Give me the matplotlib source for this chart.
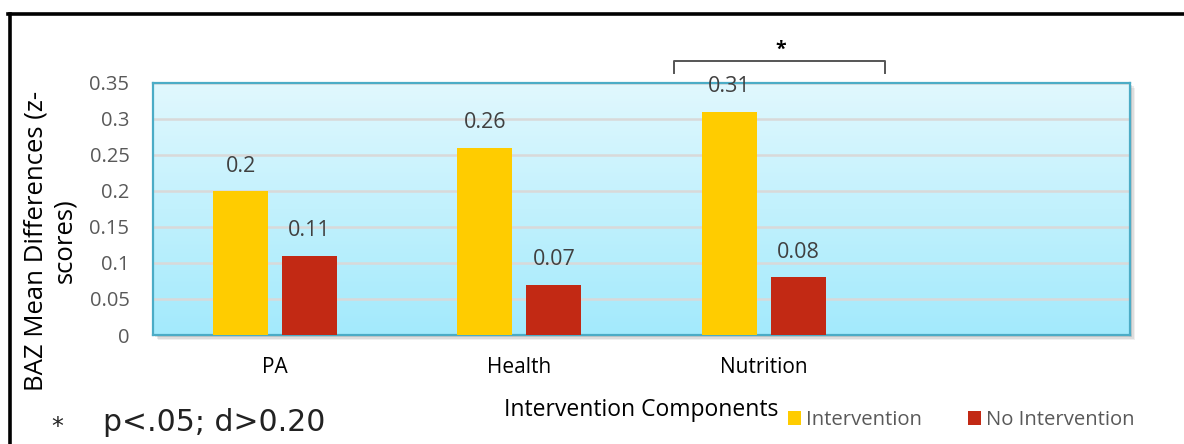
import numpy as np
import matplotlib
matplotlib.use("Agg")
import matplotlib.pyplot as plt
from matplotlib.lines import Line2D
from matplotlib.patches import Rectangle
from matplotlib.colors import LinearSegmentedColormap
import matplotlib.transforms as mtransforms

plt.rcParams['font.family'] = ['Open Sans', 'DejaVu Sans']

# 数据
categories = ["PA", "Health", "Nutrition", ""]
intervention = [0.20, 0.26, 0.31]
no_intervention = [0.11, 0.07, 0.08]
y_ticks = [0, 0.05, 0.1, 0.15, 0.2, 0.25, 0.3, 0.35]
y_tick_labels = ["0", "0.05", "0.1", "0.15", "0.2", "0.25", "0.3", "0.35"]

YELLOW = "#FFCC00"
RED = "#C22914"
TEAL = "#4BACC6"

fig = plt.figure(figsize=(11.84, 4.44), dpi=100)
ax_rect = [153 / 1184, 109 / 444, 977 / 1184, 252 / 444]

# 阴影
for i, a in enumerate([0.10, 0.08, 0.06]):
    off = (2 + i * 1.5)
    fig.patches.append(Rectangle((ax_rect[0] + off / 1184, ax_rect[1] - off / 444),
                                 ax_rect[2], ax_rect[3], transform=fig.transFigure,
                                 facecolor="black", alpha=a, edgecolor="none", zorder=0))

ax = fig.add_axes(ax_rect)
ax.set_zorder(1)

# 渐变背景
cmap = LinearSegmentedColormap.from_list("bg", ["#A3EAFC", "#E1F8FE"])
grad = np.linspace(0, 1, 256).reshape(-1, 1)
ax.imshow(grad, cmap=cmap, aspect="auto", origin="lower",
          extent=[-0.5, 3.5, 0, 0.35], zorder=0)

x = np.arange(len(intervention))
w = 0.225
off = 0.141
b1 = ax.bar(x - off, intervention, w, color=YELLOW, zorder=3, label="Intervention")
b2 = ax.bar(x + off, no_intervention, w, color=RED, zorder=3, label="No Intervention")

for bars, vals in [(b1, intervention), (b2, no_intervention)]:
    for r, v in zip(bars, vals):
        ax.annotate(f"{v:g}", (r.get_x() + r.get_width() / 2, v), xytext=(0, 18),
                    textcoords="offset points", ha="center", va="center",
                    fontsize=15.5, color="#404040", zorder=4, annotation_clip=False)

ax.set_xlim(-0.5, 3.5)
ax.set_ylim(0, 0.35)
ax.set_yticks(y_ticks)
ax.set_yticklabels(y_tick_labels, fontsize=14.5, color="#595959")
ax.set_xticks(np.arange(len(categories)))
ax.set_xticklabels(categories, fontsize=15, color="black")
ax.tick_params(axis="y", length=0, pad=17)
ax.tick_params(axis="x", length=0, pad=16)
ax.yaxis.grid(True, color="#D9D9D9", linewidth=1.8, zorder=1)
ax.set_axisbelow(True)
for s in ax.spines.values():
    s.set_color(TEAL)
    s.set_linewidth(1.6)

ax.set_xlabel("Intervention Components", fontsize=16.5, labelpad=14)
ax.set_ylabel("BAZ Mean Differences (z-\nscores)", fontsize=18.5, linespacing=1.15)
ax.yaxis.set_label_coords(-0.078, 0.373)

# 显著性括号
trans = mtransforms.blended_transform_factory(ax.transData, ax.transAxes)
bx0, bx1 = 1.635, 2.496
ax.add_line(Line2D([bx0, bx0, bx1, bx1], [1.040, 1.087, 1.087, 1.040], transform=trans,
                   color="#555555", linewidth=1.4, clip_on=False))
ax.text((bx0 + bx1) / 2 + 0.005, 1.13, "*", transform=trans, ha="center", va="center",
        fontsize=14, color="black", fontweight="bold")

# 图例
leg = fig.legend(handles=[b1, b2], loc="center left", bbox_to_anchor=(780 / 1184, 1 - 420 / 444),
                 ncol=2, frameon=False, fontsize=14.6, handlelength=0.65, handleheight=0.65,
                 handletextpad=0.25, columnspacing=2.25, borderaxespad=0)
for t in leg.get_texts():
    t.set_color("#595959")

# 脚注
fig.text(57 / 1184, 1 - 427 / 444, "*", fontsize=17, ha="center", va="center",
         family="DejaVu Sans", color="#222222")
fig.text(103 / 1184, 1 - 422 / 444, "p<.05; d>0.20", fontsize=21.5, ha="left", va="center",
         family="DejaVu Sans", color="#222222")

# 外框
fig.add_artist(Line2D([8 / 1184, 1], [1 - 14 / 444] * 2, transform=fig.transFigure,
                      color="black", linewidth=2.6))
fig.add_artist(Line2D([10 / 1184] * 2, [0, 1 - 14 / 444], transform=fig.transFigure,
                      color="black", linewidth=2.6))

fig.savefig("out.png", dpi=100)
